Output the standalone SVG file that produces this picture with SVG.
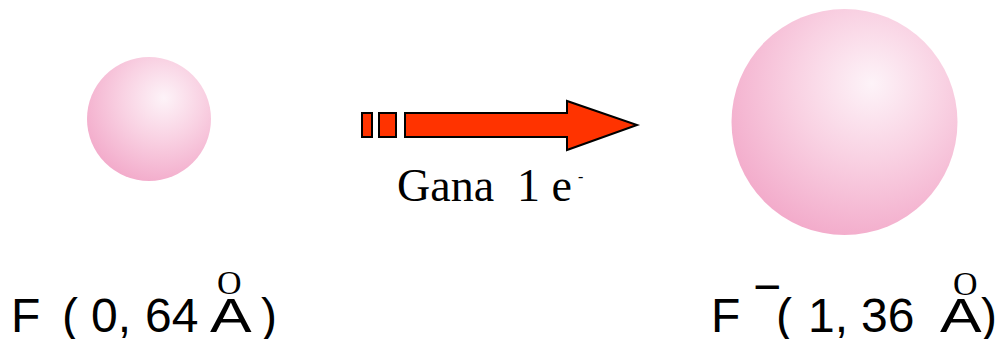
<svg xmlns="http://www.w3.org/2000/svg" width="1002" height="339" viewBox="0 0 1002 339">
<defs>
<radialGradient id="sph" cx="0.6" cy="0.35" r="0.72" fx="0.62" fy="0.33">
<stop offset="0" stop-color="#fdf3f8"/>
<stop offset="0.45" stop-color="#f9d2e3"/>
<stop offset="1" stop-color="#f2a7c8"/>
</radialGradient>
<style>
.ar{fill:#ff3300;stroke:#000;stroke-width:2}
.sans{font-family:"Liberation Sans",Arial,sans-serif;font-size:48px;fill:#000}
.serif{font-family:"Liberation Serif","Times New Roman",serif;fill:#000}
</style>
</defs>
<g id="atom-F">
<circle cx="149" cy="119" r="62" fill="url(#sph)"/>
</g>
<g id="ion-F">
<circle cx="844.5" cy="122" r="113" fill="url(#sph)"/>
</g>
<g id="connectors">
<rect class="ar" x="362" y="113" width="10" height="24"/>
<rect class="ar" x="379" y="113" width="17" height="24"/>
<polygon class="ar" points="405,113 567,113 567,101 637,125 567,150 567,137 405,137"/>
</g>
<g id="label-arrow">
<text class="serif" x="397" y="201" font-size="46" xml:space="preserve" style="white-space:pre">Gana  1 e</text>
<text class="serif" x="578" y="182" font-size="16">-</text>
</g>
<g id="label-F">
<text class="sans" x="11" y="332">F</text>
<text class="sans" x="62" y="332">(</text>
<text class="sans" x="91" y="332">0,</text>
<text class="sans" x="145" y="332">64</text>
<text class="sans" x="210" y="332" transform="translate(210 0) scale(1.3 1) translate(-210 0)">A</text>
<text class="serif" x="217" y="294" font-size="34">O</text>
<text class="sans" x="261" y="332">)</text>
</g>
<g id="label-Fion">
<text class="sans" x="711" y="332">F</text>
<text class="sans" x="753" y="303" font-size="38">−</text>
<text class="sans" x="776" y="332">(</text>
<text class="sans" x="808" y="332">1,</text>
<text class="sans" x="861" y="332">36</text>
<text class="sans" x="940" y="332" transform="translate(940 0) scale(1.3 1) translate(-940 0)">A</text>
<text class="serif" x="953" y="295" font-size="34">O</text>
<text class="sans" x="981" y="332">)</text>
</g>
</svg>
